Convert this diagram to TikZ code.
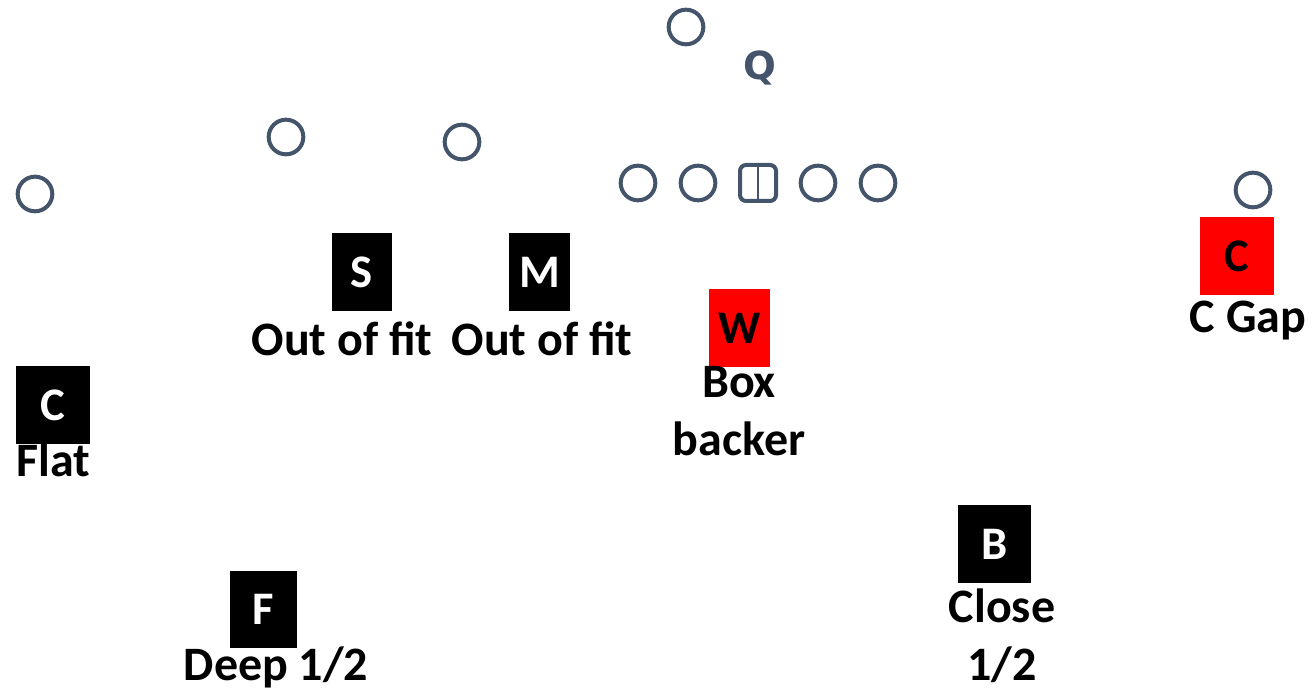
\documentclass[tikz,border=0pt]{standalone}
\usepackage{fontspec}
\setmainfont{Carlito}
\newfontfamily\qfont{DejaVu Sans}
\definecolor{ink}{HTML}{44546A}
\definecolor{boxred}{HTML}{FF0000}
\begin{document}
\begin{tikzpicture}[x=0.75pt,y=-0.75pt,
  plyr/.style={circle, draw=ink, line width=3pt, minimum size=26pt, inner sep=0pt},
  ctrbox/.style={draw=ink, line width=3pt, rounded corners=4.5pt, minimum size=27pt, inner sep=0pt},
  dbox/.style={fill=black, text=white, inner sep=0pt, font=\fontsize{35}{40}\selectfont\bfseries},
  rbox/.style={fill=boxred, text=black, inner sep=0pt, font=\fontsize{35}{40}\selectfont\bfseries},
  lbl/.style={font=\fontsize{36}{43.5}\selectfont\bfseries, anchor=base, inner sep=0pt, align=center},
  qlbl/.style={font=\qfont\fontsize{29}{29}\selectfont\bfseries, text=ink, anchor=base, inner sep=0pt}]
\useasboundingbox (0,0) rectangle (1312,691);
% offense
\node[plyr] (qb) at (686,27) {};
\node[qlbl] (q) at (760,80) {Q};
\node[plyr] (lt) at (638,183) {};
\node[plyr] (lg) at (698,183) {};
\node[ctrbox] (ctr) at (758,183) {};
\draw[ink, line width=1.5pt] (ctr.north) -- (ctr.south);
\node[plyr] (rg) at (818,183) {};
\node[plyr] (rt) at (878,183) {};
\node[plyr] (wr1) at (35,194) {};
\node[plyr] (wr2) at (286,137) {};
\node[plyr] (wr3) at (462,142) {};
\node[plyr] (te) at (1253,190) {};
% defense
\node[dbox, minimum width=45pt, minimum height=58.5pt] (S) at (362,272) {S};
\node[lbl] (Sl) at (342,355) {Out of fit};
\node[dbox, minimum width=45.75pt, minimum height=58.5pt] (M) at (539.5,272) {M};
\node[lbl] (Ml) at (542,355) {Out of fit};
\node[rbox, minimum width=45.75pt, minimum height=58.5pt] (W) at (739.5,328) {W};
\node[lbl] (Wl) at (739,455) {Box\\backer};
\node[rbox, minimum width=55.5pt, minimum height=58.5pt] (Cr) at (1237,256) {C};
\node[lbl] (Crl) at (1248,332) {C Gap};
\node[dbox, minimum width=55.5pt, minimum height=58.5pt] (Cl) at (53,405) {C};
\node[lbl, anchor=base west] (Cll) at (16,476) {Flat};
\node[dbox, minimum width=50.25pt, minimum height=57.75pt] (F) at (263.5,609.5) {F};
\node[lbl] (Fl) at (276,680) {Deep 1/2};
\node[dbox, minimum width=54.75pt, minimum height=58.5pt] (B) at (994.5,544) {B};
\node[lbl] (Bl) at (1002,680) {Close\\1/2};
\end{tikzpicture}
\end{document}
